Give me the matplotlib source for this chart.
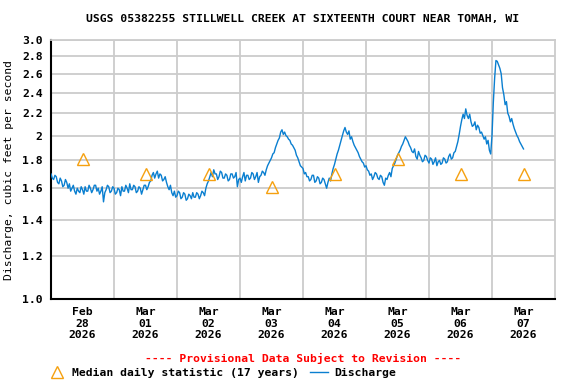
import matplotlib
matplotlib.use('Agg')
import matplotlib.pyplot as plt
from matplotlib.lines import Line2D
import numpy as np

# half-hourly discharge, starting Feb 28 2026 00:00 (cfs)
discharge = [
    # Feb 28
    1.70, 1.67, 1.66, 1.69, 1.68, 1.64, 1.63, 1.67, 1.65, 1.61, 1.62, 1.66,
    1.64, 1.60, 1.63, 1.58, 1.60, 1.62, 1.58, 1.56, 1.60, 1.58, 1.57, 1.61,
    1.59, 1.56, 1.61, 1.58, 1.58, 1.62, 1.60, 1.57, 1.59, 1.62, 1.62, 1.58,
    1.60, 1.56, 1.58, 1.61, 1.51, 1.57, 1.59, 1.62, 1.61, 1.57, 1.58, 1.61,
    # Mar 01
    1.60, 1.56, 1.57, 1.60, 1.59, 1.55, 1.61, 1.58, 1.58, 1.62, 1.60, 1.57,
    1.63, 1.59, 1.59, 1.62, 1.61, 1.57, 1.58, 1.61, 1.60, 1.56, 1.59, 1.62,
    1.62, 1.59, 1.61, 1.64, 1.65, 1.69, 1.71, 1.67, 1.70, 1.72, 1.67, 1.70,
    1.69, 1.65, 1.66, 1.68, 1.64, 1.61, 1.59, 1.62, 1.57, 1.55, 1.58, 1.54,
    # Mar 02
    1.55, 1.58, 1.57, 1.53, 1.54, 1.57, 1.56, 1.52, 1.53, 1.56, 1.55, 1.53,
    1.57, 1.54, 1.54, 1.57, 1.56, 1.53, 1.55, 1.58, 1.57, 1.55, 1.60, 1.63,
    1.65, 1.68, 1.71, 1.68, 1.73, 1.70, 1.70, 1.66, 1.68, 1.72, 1.71, 1.67,
    1.67, 1.70, 1.69, 1.65, 1.66, 1.70, 1.70, 1.67, 1.68, 1.71, 1.61, 1.66,
    # Mar 03
    1.67, 1.64, 1.68, 1.71, 1.65, 1.69, 1.69, 1.66, 1.67, 1.71, 1.70, 1.66,
    1.68, 1.71, 1.64, 1.68, 1.69, 1.72, 1.71, 1.69, 1.73, 1.76, 1.78, 1.80,
    1.82, 1.85, 1.86, 1.90, 1.93, 1.96, 1.98, 2.03, 2.05, 2.01, 2.03, 2.00,
    1.99, 1.97, 1.96, 1.93, 1.92, 1.90, 1.88, 1.84, 1.82, 1.79, 1.76, 1.75,
    # Mar 04
    1.74, 1.70, 1.71, 1.68, 1.68, 1.65, 1.66, 1.69, 1.69, 1.64, 1.65, 1.68,
    1.67, 1.63, 1.64, 1.67, 1.66, 1.63, 1.60, 1.64, 1.67, 1.65, 1.70, 1.74,
    1.77, 1.81, 1.85, 1.88, 1.92, 1.96, 2.00, 2.04, 2.07, 2.03, 2.01, 2.04,
    1.97, 1.99, 1.95, 1.92, 1.90, 1.88, 1.86, 1.83, 1.81, 1.79, 1.78, 1.75,
    # Mar 05
    1.76, 1.73, 1.72, 1.69, 1.70, 1.66, 1.68, 1.71, 1.70, 1.67, 1.66, 1.69,
    1.68, 1.64, 1.62, 1.67, 1.66, 1.69, 1.71, 1.68, 1.74, 1.76, 1.78, 1.81,
    1.84, 1.86, 1.88, 1.91, 1.93, 1.96, 1.99, 1.97, 1.95, 1.92, 1.90, 1.87,
    1.86, 1.89, 1.83, 1.81, 1.87, 1.84, 1.82, 1.79, 1.80, 1.84, 1.83, 1.80,
    # Mar 06
    1.78, 1.82, 1.81, 1.77, 1.79, 1.82, 1.76, 1.79, 1.80, 1.77, 1.78, 1.82,
    1.81, 1.78, 1.79, 1.83, 1.85, 1.81, 1.82, 1.86, 1.87, 1.91, 1.95, 2.01,
    2.08, 2.14, 2.19, 2.15, 2.24, 2.18, 2.15, 2.19, 2.12, 2.08, 2.09, 2.12,
    2.05, 2.09, 2.07, 2.02, 2.03, 2.00, 1.97, 1.99, 1.93, 1.96, 1.88, 1.85,
    # Mar 07
    2.00, 2.30, 2.55, 2.75, 2.74, 2.70, 2.66, 2.60, 2.45, 2.38, 2.28, 2.31,
    2.20, 2.17, 2.12, 2.15, 2.10, 2.06, 2.03, 2.00, 1.98, 1.95, 1.93, 1.91,
    1.89,
]

# median daily statistic, one per day (plotted at noon)
median_days = [0, 1, 2, 3, 4, 5, 6, 7]
median_vals = [1.81, 1.70, 1.70, 1.61, 1.70, 1.81, 1.70, 1.70]

day_labels = ['Feb\n28\n2026', 'Mar\n01\n2026', 'Mar\n02\n2026', 'Mar\n03\n2026',
              'Mar\n04\n2026', 'Mar\n05\n2026', 'Mar\n06\n2026', 'Mar\n07\n2026']

ytick_vals = [1.0, 1.2, 1.4, 1.6, 1.8, 2.0, 2.2, 2.4, 2.6, 2.8, 3.0]
ytick_labels = ['1.0', '1.2', '1.4', '1.6', '1.8', '2', '2.2', '2.4', '2.6', '2.8', '3.0']

plt.rcParams['font.family'] = 'DejaVu Sans Mono'
plt.rcParams['font.weight'] = 'bold'
plt.rcParams['font.size'] = 8.2

fig = plt.figure(figsize=(5.76, 3.84), dpi=100)
ax = fig.add_axes([51 / 576, 85 / 384, 504 / 576, 259 / 384])

t = np.arange(len(discharge)) / 48.0
ax.plot(t, discharge, color='#0a7fd0', lw=1.0, zorder=3)
ax.plot(np.array(median_days) + 0.5, median_vals, ls='none', marker='^', ms=8,
        mfc='none', mec='#f5a00f', mew=1.0, zorder=4)

ax.set_yscale('log')
ax.set_ylim(1.0, 3.0)
ax.set_xlim(0, 8)
ax.set_yticks(ytick_vals)
ax.set_yticklabels(ytick_labels)
ax.yaxis.set_minor_locator(matplotlib.ticker.NullLocator())

ax.set_xticks(np.arange(1, 8))
ax.set_xticklabels([])
ax.set_xticks(np.arange(8) + 0.5, minor=True)
ax.set_xticklabels(day_labels, minor=True, linespacing=1.15)
ax.tick_params(axis='both', which='both', length=0)
ax.tick_params(axis='x', which='minor', pad=6)
ax.tick_params(axis='y', pad=6)

ax.grid(True, which='major', color='#cccccc', lw=1.3)
for side in ['top', 'right']:
    ax.spines[side].set_color('#cccccc')
    ax.spines[side].set_linewidth(1.3)
for side in ['left', 'bottom']:
    ax.spines[side].set_color('black')
    ax.spines[side].set_linewidth(1.5)

ax.set_ylabel('Discharge, cubic feet per second', labelpad=6)
fig.text(303 / 576, 1 - 19 / 384, 'USGS 05382255 STILLWELL CREEK AT SIXTEENTH COURT NEAR TOMAH, WI',
         ha='center', va='center')
fig.text(303 / 576, 1 - 358 / 384, '---- Provisional Data Subject to Revision ----',
         ha='center', va='center', color='red')

handles = [
    Line2D([], [], ls='none', marker='^', ms=8, mfc='none', mec='#f5a00f', mew=1.0),
    Line2D([], [], color='#0a7fd0', lw=1.0),
]
fig.legend(handles, ['Median daily statistic (17 years)', 'Discharge'],
           loc='center left', bbox_to_anchor=(48 / 576, 1 - 373 / 384), ncol=2,
           frameon=False, handlelength=1.6, handletextpad=0.5, columnspacing=1.0,
           borderpad=0, borderaxespad=0)

fig.savefig('out.png', dpi=100)
